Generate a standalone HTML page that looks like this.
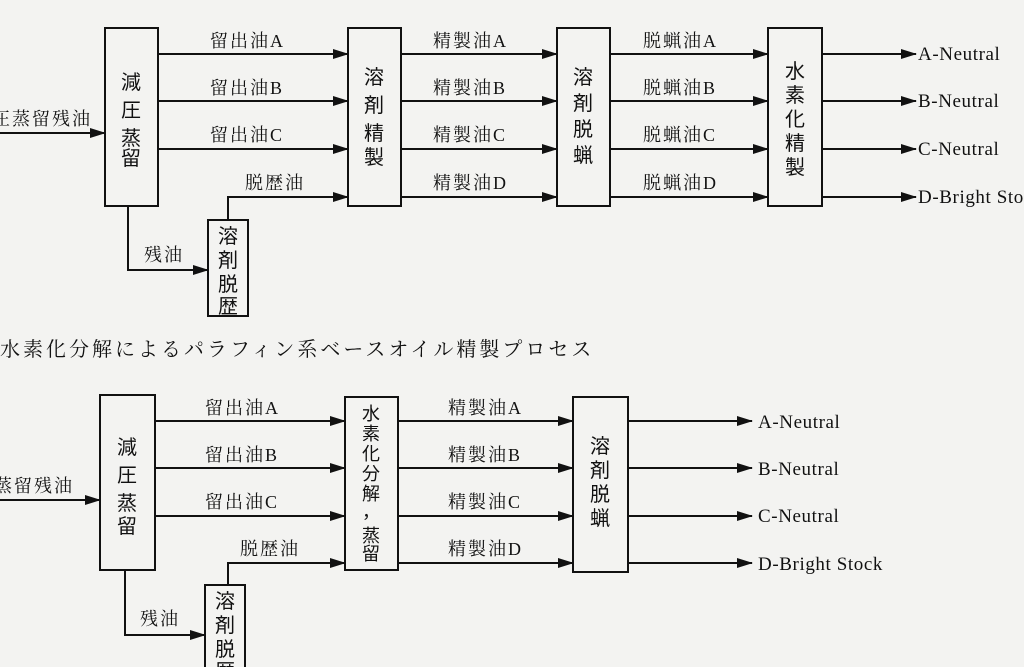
<!DOCTYPE html>
<html><head><meta charset="utf-8"><style>
html,body{margin:0;padding:0;background:#f3f3f1;}
svg{display:block;}
text{font-family:"Liberation Serif","Noto Serif CJK JP","Noto Serif CJK SC",serif;fill:#111;font-size:18px;letter-spacing:2px;}
.v{font-size:20px;text-anchor:middle;letter-spacing:0;font-family:"Noto Sans CJK JP",sans-serif;}
.b{font-size:18px;text-anchor:middle;letter-spacing:0;font-family:"Noto Sans CJK JP",sans-serif;}
.o{font-size:19px;letter-spacing:0.6px;}
</style></head><body>
<svg width="1024" height="667" viewBox="0 0 1024 667" xmlns="http://www.w3.org/2000/svg">
<defs><marker id="a" markerWidth="16" markerHeight="10" refX="15" refY="5" orient="auto" markerUnits="userSpaceOnUse"><path d="M0,0 L16,5 L0,10 z" fill="#111"/></marker></defs>
<g stroke="#111" stroke-width="2" fill="none">
<line x1="0" y1="133" x2="105" y2="133" marker-end="url(#a)"/>
<rect x="105" y="28" width="53" height="178"/>
<rect x="348" y="28" width="53" height="178"/>
<rect x="557" y="28" width="53" height="178"/>
<rect x="768" y="28" width="54" height="178"/>
<rect x="208" y="220" width="40" height="96"/>
<line x1="158" y1="54" x2="348" y2="54" marker-end="url(#a)"/>
<line x1="158" y1="101" x2="348" y2="101" marker-end="url(#a)"/>
<line x1="158" y1="149" x2="348" y2="149" marker-end="url(#a)"/>
<polyline points="228,220 228,197 348,197" marker-end="url(#a)"/>
<polyline points="128,206 128,270 208,270" marker-end="url(#a)"/>
<line x1="401" y1="54" x2="557" y2="54" marker-end="url(#a)"/>
<line x1="401" y1="101" x2="557" y2="101" marker-end="url(#a)"/>
<line x1="401" y1="149" x2="557" y2="149" marker-end="url(#a)"/>
<line x1="401" y1="197" x2="557" y2="197" marker-end="url(#a)"/>
<line x1="610" y1="54" x2="768" y2="54" marker-end="url(#a)"/>
<line x1="610" y1="101" x2="768" y2="101" marker-end="url(#a)"/>
<line x1="610" y1="149" x2="768" y2="149" marker-end="url(#a)"/>
<line x1="610" y1="197" x2="768" y2="197" marker-end="url(#a)"/>
<line x1="822" y1="54" x2="916" y2="54" marker-end="url(#a)"/>
<line x1="822" y1="101" x2="916" y2="101" marker-end="url(#a)"/>
<line x1="822" y1="149" x2="916" y2="149" marker-end="url(#a)"/>
<line x1="822" y1="197" x2="916" y2="197" marker-end="url(#a)"/>
<line x1="0" y1="500" x2="100" y2="500" marker-end="url(#a)"/>
<rect x="100" y="395" width="55" height="175"/>
<rect x="345" y="397" width="53" height="173"/>
<rect x="573" y="397" width="55" height="175"/>
<rect x="205" y="585" width="40" height="90"/>
<line x1="155" y1="421" x2="345" y2="421" marker-end="url(#a)"/>
<line x1="155" y1="468" x2="345" y2="468" marker-end="url(#a)"/>
<line x1="155" y1="516" x2="345" y2="516" marker-end="url(#a)"/>
<polyline points="228,585 228,563 345,563" marker-end="url(#a)"/>
<polyline points="125,570 125,635 205,635" marker-end="url(#a)"/>
<line x1="398" y1="421" x2="573" y2="421" marker-end="url(#a)"/>
<line x1="398" y1="468" x2="573" y2="468" marker-end="url(#a)"/>
<line x1="398" y1="516" x2="573" y2="516" marker-end="url(#a)"/>
<line x1="398" y1="563" x2="573" y2="563" marker-end="url(#a)"/>
<line x1="628" y1="421" x2="752" y2="421" marker-end="url(#a)"/>
<line x1="628" y1="468" x2="752" y2="468" marker-end="url(#a)"/>
<line x1="628" y1="516" x2="752" y2="516" marker-end="url(#a)"/>
<line x1="628" y1="563" x2="752" y2="563" marker-end="url(#a)"/>
</g>
<text x="-8" y="125">圧蒸留残油</text>
<text class="v" x="131" y="89">減</text><text class="v" x="131" y="117">圧</text><text class="v" x="131" y="145">蒸</text><text class="v" x="131" y="165">留</text>
<text class="v" x="374" y="84">溶</text><text class="v" x="374" y="112">剤</text><text class="v" x="374" y="140">精</text><text class="v" x="374" y="164">製</text>
<text class="v" x="583" y="84">溶</text><text class="v" x="583" y="110">剤</text><text class="v" x="583" y="136">脱</text><text class="v" x="583" y="162">蝋</text>
<text class="v" x="795" y="78">水</text><text class="v" x="795" y="102">素</text><text class="v" x="795" y="126">化</text><text class="v" x="795" y="150">精</text><text class="v" x="795" y="174">製</text>
<text class="v" x="228" y="243">溶</text><text class="v" x="228" y="267">剤</text><text class="v" x="228" y="291">脱</text><text class="v" x="228" y="313">歴</text>
<text x="210" y="47">留出油A</text><text x="210" y="94">留出油B</text><text x="210" y="141">留出油C</text>
<text x="245" y="189">脱歴油</text><text x="144" y="261">残油</text>
<text x="433" y="47">精製油A</text><text x="433" y="94">精製油B</text><text x="433" y="141">精製油C</text><text x="433" y="189">精製油D</text>
<text x="643" y="47">脱蝋油A</text><text x="643" y="94">脱蝋油B</text><text x="643" y="141">脱蝋油C</text><text x="643" y="189">脱蝋油D</text>
<text class="o" x="918" y="60">A-Neutral</text><text class="o" x="918" y="107">B-Neutral</text><text class="o" x="918" y="155">C-Neutral</text><text class="o" x="918" y="203">D-Bright Stock</text>
<text x="0" y="356" style="font-size:20px;letter-spacing:3px">水素化分解によるパラフィン系ベースオイル精製プロセス</text>
<text x="-6" y="492">蒸留残油</text>
<text class="v" x="127" y="454">減</text><text class="v" x="127" y="482">圧</text><text class="v" x="127" y="510">蒸</text><text class="v" x="127" y="533">留</text>
<text class="b" x="371" y="420">水</text><text class="b" x="371" y="440">素</text><text class="b" x="371" y="460">化</text><text class="b" x="371" y="480">分</text><text class="b" x="371" y="500">解</text><text class="b" x="371" y="518">，</text><text class="b" x="371" y="542">蒸</text><text class="b" x="371" y="560">留</text>
<text class="v" x="600" y="453">溶</text><text class="v" x="600" y="477">剤</text><text class="v" x="600" y="501">脱</text><text class="v" x="600" y="525">蝋</text>
<text class="v" x="225" y="608">溶</text><text class="v" x="225" y="632">剤</text><text class="v" x="225" y="656">脱</text><text class="v" x="225" y="678">歴</text>
<text x="205" y="414">留出油A</text><text x="205" y="461">留出油B</text><text x="205" y="508">留出油C</text>
<text x="240" y="555">脱歴油</text><text x="140" y="625">残油</text>
<text x="448" y="414">精製油A</text><text x="448" y="461">精製油B</text><text x="448" y="508">精製油C</text><text x="448" y="555">精製油D</text>
<text class="o" x="758" y="428">A-Neutral</text><text class="o" x="758" y="475">B-Neutral</text><text class="o" x="758" y="522">C-Neutral</text><text class="o" x="758" y="570">D-Bright Stock</text>
</svg>
</body></html>
